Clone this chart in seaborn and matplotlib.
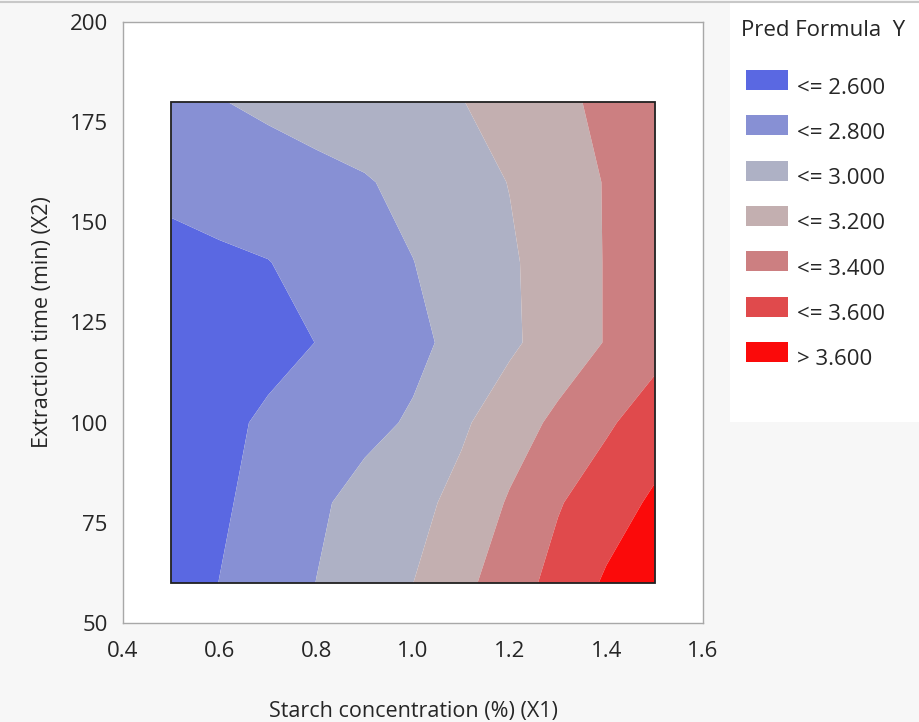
import numpy as np
import matplotlib
matplotlib.use("Agg")
import matplotlib.pyplot as plt
from matplotlib.patches import Rectangle
from matplotlib.lines import Line2D
import seaborn as sns

# -----------------------------
# Grid of predicted Y
# -----------------------------
starch = [0.5, 0.6, 0.7, 0.8, 0.9, 1.0, 1.1, 1.2, 1.3, 1.4, 1.5]
extraction_time = [60, 80, 100, 120, 140, 160, 180]

pred_y = [
    [2.500, 2.603, 2.702, 2.802, 2.900, 2.999, 3.147, 3.305, 3.467, 3.625, 3.780],  # 60
    [2.470, 2.571, 2.671, 2.771, 2.860, 2.944, 3.054, 3.220, 3.385, 3.510, 3.631],  # 80
    [2.490, 2.560, 2.626, 2.690, 2.753, 2.820, 2.971, 3.107, 3.242, 3.372, 3.501],  # 100
    [2.480, 2.510, 2.550, 2.602, 2.680, 2.757, 2.852, 2.968, 3.088, 3.210, 3.330],  # 120
    [2.550, 2.570, 2.595, 2.662, 2.730, 2.797, 2.886, 2.976, 3.088, 3.210, 3.331],  # 140
    [2.640, 2.678, 2.717, 2.750, 2.785, 2.850, 2.930, 3.005, 3.112, 3.210, 3.330],  # 160
    [2.753, 2.793, 2.833, 2.873, 2.913, 2.954, 2.994, 3.072, 3.157, 3.242, 3.327],  # 180
]

level_breaks = [2.6, 2.8, 3.0, 3.2, 3.4, 3.6]
level_labels = ['<= 2.600', '<= 2.800', '<= 3.000', '<= 3.200',
                '<= 3.400', '<= 3.600', '> 3.600']
level_colors = ['#5a68e2', '#8790d4', '#aeb1c5', '#c3afb0',
                '#cc7f81', '#e04a4c', '#fb0a0a']

x_ticks = [0.4, 0.6, 0.8, 1.0, 1.2, 1.4, 1.6]
y_ticks = [50, 75, 100, 125, 150, 175, 200]

# -----------------------------
# Style
# -----------------------------
sns.set_style('white')
plt.rcParams['font.family'] = ['Open Sans', 'DejaVu Sans']
text_col = '#262626'
frame_col = '#a8a8a8'

fig = plt.figure(figsize=(9.19, 7.22), dpi=100, facecolor='#f7f7f7')
ax = fig.add_axes([123 / 919, 1 - 623 / 722, 580 / 919, 601 / 722])
ax.set_facecolor('white')

X, Y = np.meshgrid(starch, extraction_time)
Z = np.array(pred_y)
levels = [Z.min() - 1] + level_breaks + [Z.max() + 1]
ax.contourf(X, Y, Z, levels=levels, colors=level_colors, antialiased=True)

# black frame around the data region
ax.add_patch(Rectangle((min(starch), min(extraction_time)),
                       max(starch) - min(starch),
                       max(extraction_time) - min(extraction_time),
                       fill=False, edgecolor='#202020', linewidth=1.3, zorder=5))

ax.set_xlim(0.4, 1.6)
ax.set_ylim(50, 200)
ax.set_xticks(x_ticks)
ax.set_xticklabels([f'{v:.1f}' for v in x_ticks])
ax.set_yticks(y_ticks)
ax.tick_params(axis='both', which='both', direction='out', length=8, width=1,
               color=frame_col, labelsize=16, labelcolor=text_col, pad=3)
ax.tick_params(axis='x', pad=5)
for side in ['top', 'right', 'left', 'bottom']:
    ax.spines[side].set_visible(True)
    ax.spines[side].set_color(frame_col)
    ax.spines[side].set_linewidth(1)

ax.set_xlabel('Starch concentration (%) (X1)', fontsize=15.5, color=text_col, labelpad=28)
ax.set_ylabel('Extraction time (min) (X2)', fontsize=15.5, color=text_col, labelpad=12)

# -----------------------------
# Legend panel
# -----------------------------
leg = fig.add_axes([730 / 919, 1 - 422 / 722, 189 / 919, 419 / 722])
leg.set_facecolor('white')
leg.set_xlim(0, 189)
leg.set_ylim(419, 0)
leg.set_xticks([])
leg.set_yticks([])
for side in leg.spines:
    leg.spines[side].set_visible(False)

leg.text(11, 28, 'Pred Formula  Y', fontsize=16, color=text_col, va='center', ha='left')
for i, (lab, col) in enumerate(zip(level_labels, level_colors)):
    yc = 77 + i * 45.3
    leg.add_patch(Rectangle((16, yc - 10), 42, 20, facecolor=col, edgecolor='none'))
    leg.text(67, yc + 8, lab, fontsize=16, color=text_col, va='center', ha='left')

# thin window border at the top
fig.add_artist(Line2D([0, 1], [1 - 2 / 722, 1 - 2 / 722], color='#c8c8c8', linewidth=1.5))

plt.savefig('out.png', dpi=100, facecolor=fig.get_facecolor())
